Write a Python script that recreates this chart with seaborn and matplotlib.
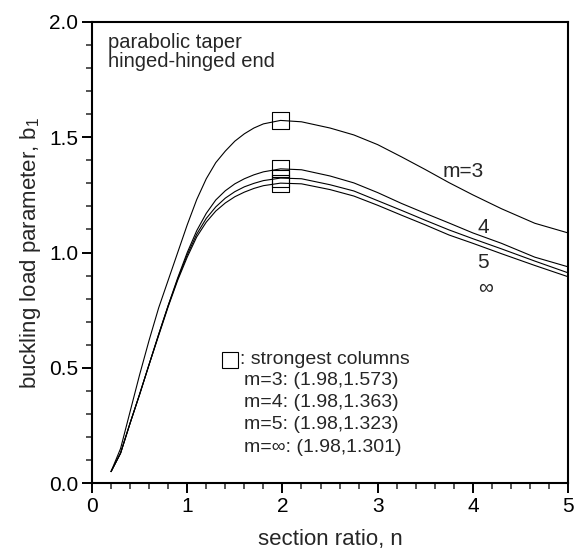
import numpy as np
import pandas as pd
import seaborn as sns
from matplotlib import pyplot as plt
from matplotlib.ticker import MultipleLocator

# section ratio n and buckling load parameter b1
n = [0.2, 0.3, 0.4, 0.5, 0.6, 0.7, 0.8, 0.9, 1.0, 1.1, 1.2, 1.3, 1.4, 1.5,
     1.6, 1.7, 1.8, 1.98, 2.2, 2.5, 2.75, 3.0, 3.25, 3.5, 3.75, 4.0, 4.3, 4.65, 5.0]
b_m3 = [0.05, 0.15, 0.31, 0.47, 0.62, 0.76, 0.88, 1.00, 1.12, 1.23, 1.32, 1.39, 1.44, 1.483,
        1.515, 1.54, 1.558, 1.573, 1.567, 1.54, 1.51, 1.468, 1.415, 1.36, 1.303, 1.25, 1.19, 1.127, 1.085]
b_m4 = [0.05, 0.13, 0.26, 0.385, 0.515, 0.645, 0.77, 0.89, 1.0, 1.095, 1.17, 1.228, 1.268, 1.298,
        1.32, 1.337, 1.35, 1.363, 1.359, 1.332, 1.302, 1.26, 1.213, 1.17, 1.128, 1.085, 1.04, 0.98, 0.938]
b_m5 = [0.05, 0.13, 0.26, 0.385, 0.515, 0.645, 0.77, 0.885, 0.99, 1.08, 1.148, 1.198, 1.236, 1.264,
        1.285, 1.3, 1.312, 1.323, 1.32, 1.294, 1.267, 1.225, 1.183, 1.14, 1.098, 1.06, 1.016, 0.963, 0.912]
b_inf = [0.05, 0.13, 0.26, 0.385, 0.515, 0.64, 0.765, 0.88, 0.98, 1.068, 1.132, 1.18, 1.215, 1.242,
         1.262, 1.278, 1.29, 1.301, 1.298, 1.273, 1.245, 1.205, 1.162, 1.12, 1.076, 1.04, 0.995, 0.944, 0.895]

peak_n = [1.98, 1.98, 1.98, 1.98]
peak_b = [1.573, 1.363, 1.323, 1.301]
labels = ["m=3", "4", "5", "\u221e"]

sns.set_style("ticks")
plt.rcParams['font.family'] = ['Liberation Sans', 'DejaVu Sans']
plt.rcParams['mathtext.fontset'] = 'custom'
plt.rcParams['mathtext.rm'] = 'Liberation Sans'
plt.rcParams['mathtext.it'] = 'Liberation Sans'

fig = plt.figure(figsize=(5.75, 5.49), dpi=100)
ax = fig.add_axes([0.16, 0.12, 0.828, 0.84])

for vals in [b_m3, b_m4, b_m5, b_inf]:
    sns.lineplot(x=n, y=vals, color='k', lw=0.8, ax=ax)

sns.scatterplot(x=peak_n, y=peak_b, marker='s', s=150, facecolors='none',
                edgecolor='k', linewidth=0.8, ax=ax, zorder=3)

ax.set_xlim(0, 5)
ax.set_ylim(0, 2.0)
ax.xaxis.set_major_locator(MultipleLocator(1))
ax.xaxis.set_minor_locator(MultipleLocator(0.2))
ax.yaxis.set_major_locator(MultipleLocator(0.5))
ax.yaxis.set_minor_locator(MultipleLocator(0.1))
ax.yaxis.set_major_formatter(plt.FormatStrFormatter('%.1f'))
ax.tick_params(which='major', direction='out', length=7, width=1.4, labelsize=15, colors='k', pad=3)
ax.tick_params(which='minor', direction='out', length=4, width=1.1)
for sp in ax.spines.values():
    sp.set_linewidth(1.5)
    sp.set_color('k')

ax.set_xlabel("section ratio, n", fontsize=16, labelpad=9)
ax.set_ylabel("buckling load parameter, b$_1$", fontsize=16, labelpad=4)

ax.text(0.17, 1.87, "parabolic taper\nhinged-hinged end", fontsize=14.5,
        va='center', linespacing=1.05)

# curve labels
ax.text(3.9, 1.35, labels[0], fontsize=15, ha='center', va='center')
ax.text(4.11, 1.11, labels[1], fontsize=15, ha='center', va='center')
ax.text(4.11, 0.955, labels[2], fontsize=15, ha='center', va='center')
ax.text(4.13, 0.845, labels[3], fontsize=15, ha='center', va='center')

# key for the strongest columns
ax.plot([1.45], [0.535], marker='s', ms=11, mfc='none', mec='k', mew=0.8)
ax.text(1.55, 0.535, ": strongest columns", fontsize=14, va='center')
for i, (lab, pb) in enumerate(zip(["3", "4", "5", "\u221e"], peak_b)):
    ax.text(1.6, 0.447 - i * 0.097, f"m={lab}: ({peak_n[i]:.2f},{pb:.3f})",
            fontsize=14, va='center')

fig.savefig("out.png", dpi=100)
